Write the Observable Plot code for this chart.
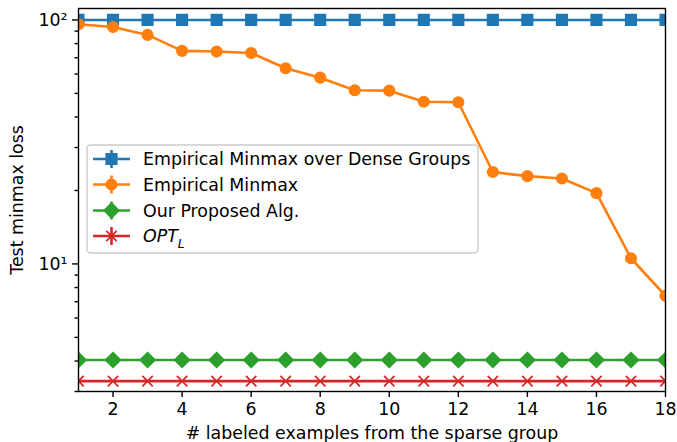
<!DOCTYPE html>
<html>
<head>
<meta charset="utf-8">
<script src="https://cdn.jsdelivr.net/npm/d3@7"></script>
<script src="https://cdn.jsdelivr.net/npm/@observablehq/plot@0.6"></script>
<style>
  html, body { margin: 0; padding: 0; background: white; }
  #chart { width: 677px; height: 442px; }
</style>
</head>
<body>
<div id="chart"></div>
<script>
// ---- data ----
const labeledCounts = [1, 2, 3, 4, 5, 6, 7, 8, 9, 10, 11, 12, 13, 14, 15, 16, 17, 18];
const denseGroupsLoss = [100, 100, 100, 100, 100, 100, 100, 100, 100, 100, 100, 100, 100, 100, 100, 100, 100, 100];
const empiricalLoss = [96, 93.6, 86.8, 74.7, 74.2, 73.2, 63.4, 58.0, 51.5, 51.3, 46.2, 46.0, 23.8, 22.9, 22.4, 19.5, 10.55, 7.4];
const proposedLoss = [4.04, 4.04, 4.04, 4.04, 4.04, 4.04, 4.04, 4.04, 4.04, 4.04, 4.04, 4.04, 4.04, 4.04, 4.04, 4.04, 4.04, 4.04];
const optLoss = [3.31, 3.31, 3.31, 3.31, 3.31, 3.31, 3.31, 3.31, 3.31, 3.31, 3.31, 3.31, 3.31, 3.31, 3.31, 3.31, 3.31, 3.31];
const seriesNames = ["Empirical Minmax over Dense Groups", "Empirical Minmax", "Our Proposed Alg.", "OPT_L"];
const seriesColors = ["#1f77b4", "#ff7f0e", "#2ca02c", "#d62728"];
const xTicks = [2, 4, 6, 8, 10, 12, 14, 16, 18];
const yMajorTicks = [10, 100];
const yMajorLabels = ["10¹", "10²"];
const yMinorTicks = [3, 4, 5, 6, 7, 8, 9, 20, 30, 40, 50, 60, 70, 80, 90];

// ---- marker shapes (sized like matplotlib markers) ----
const rOf = size => Math.sqrt(size / Math.PI);
const squareSym = { draw(c, size) { const r = rOf(size); c.rect(-r, -r, 2 * r, 2 * r); } };
const diamondSym = { draw(c, size) { const r = rOf(size) * Math.SQRT2; c.moveTo(0, -r); c.lineTo(r, 0); c.lineTo(0, r); c.lineTo(-r, 0); c.closePath(); } };
const xSym = { draw(c, size) { const r = rOf(size); c.moveTo(-r, -r); c.lineTo(r, r); c.moveTo(-r, r); c.lineTo(r, -r); } };
const circleSym = { draw(c, size) { const r = rOf(size); c.moveTo(r, 0); c.arc(0, 0, r, 0, 2 * Math.PI); } };
const symbols = [squareSym, circleSym, diamondSym, xSym];
const MR = 5.2;

const seriesValues = [denseGroupsLoss, empiricalLoss, proposedLoss, optLoss];
const rows = [];
seriesValues.forEach((vals, si) => vals.forEach((v, i) => rows.push({ s: si, x: labeledCounts[i], y: v })));

const marks = [];
seriesValues.forEach((vals, si) => {
  const d = rows.filter(r => r.s === si);
  marks.push(Plot.line(d, { x: "x", y: "y", stroke: seriesColors[si], strokeWidth: 2.6, clip: "frame" }));
  marks.push(Plot.dot(d, { x: "x", y: "y", symbol: symbols[si], r: MR,
    fill: si === 3 ? "none" : seriesColors[si], stroke: seriesColors[si], strokeWidth: 1.74, clip: "frame" }));
});

const chart = Plot.plot({
  width: 677,
  height: 442,
  marginLeft: 78,
  marginRight: 12,
  marginTop: 8,
  marginBottom: 51,
  style: { fontFamily: "DejaVu Sans", fontSize: "17.4px", color: "black", background: "white", overflow: "visible" },
  x: { domain: [1, 18] },
  y: { type: "log", domain: [3, 111.4] },
  marks: [
    ...marks,
    Plot.axisX({ ticks: xTicks, tickSize: 6, tickPadding: 5, strokeWidth: 1.4, fontSize: 17.4,
      label: "# labeled examples from the sparse group", labelAnchor: "center", labelArrow: "none", labelOffset: 47 }),
    Plot.axisY({ ticks: yMajorTicks, tickSize: 6, tickPadding: 5, strokeWidth: 1.4, fontSize: 17.4,
      tickFormat: d => yMajorLabels[yMajorTicks.indexOf(d)],
      label: "Test minmax loss", labelAnchor: "center", labelArrow: "none", labelOffset: 68 }),
    Plot.axisY({ ticks: yMinorTicks, tickSize: 3.5, strokeWidth: 1.4, tickFormat: () => "", label: null }),
    Plot.frame({ stroke: "black", strokeWidth: 1.4 })
  ]
});
document.getElementById("chart").appendChild(chart);

// ---- legend ----
const svg = d3.select(chart);
const lg = svg.append("g").attr("font-family", "DejaVu Sans").attr("font-size", "17.4px").attr("text-anchor", "start");
lg.append("rect").attr("x", 87).attr("y", 145).attr("width", 391).attr("height", 108)
  .attr("rx", 3.5).attr("fill", "white").attr("fill-opacity", 0.8).attr("stroke", "#cccccc").attr("stroke-width", 1.4);
const rowY = [159, 184.5, 210.5, 236];
seriesNames.forEach((name, i) => {
  const y = rowY[i], col = seriesColors[i];
  lg.append("line").attr("x1", 93).attr("x2", 130).attr("y1", y).attr("y2", y).attr("stroke", col).attr("stroke-width", 2.6);
  lg.append("line").attr("x1", 111.5).attr("x2", 111.5).attr("y1", y - 9).attr("y2", y + 9).attr("stroke", col).attr("stroke-width", 2.6);
  lg.append("path").attr("transform", `translate(111.5,${y})`)
    .attr("d", d3.symbol(symbols[i], Math.PI * MR * MR)())
    .attr("fill", i === 3 ? "none" : col).attr("stroke", col).attr("stroke-width", 1.74);
  const t = lg.append("text").attr("x", 143).attr("y", y).attr("dy", "0.36em").attr("fill", "black").attr("text-anchor", "start");
  if (name === "OPT_L") {
    t.append("tspan").attr("font-style", "italic").text("OPT");
    t.append("tspan").attr("font-style", "italic").attr("font-size", "12.5px").attr("dy", "0.45em").text("L");
  } else {
    t.text(name);
  }
});
</script>
</body>
</html>
